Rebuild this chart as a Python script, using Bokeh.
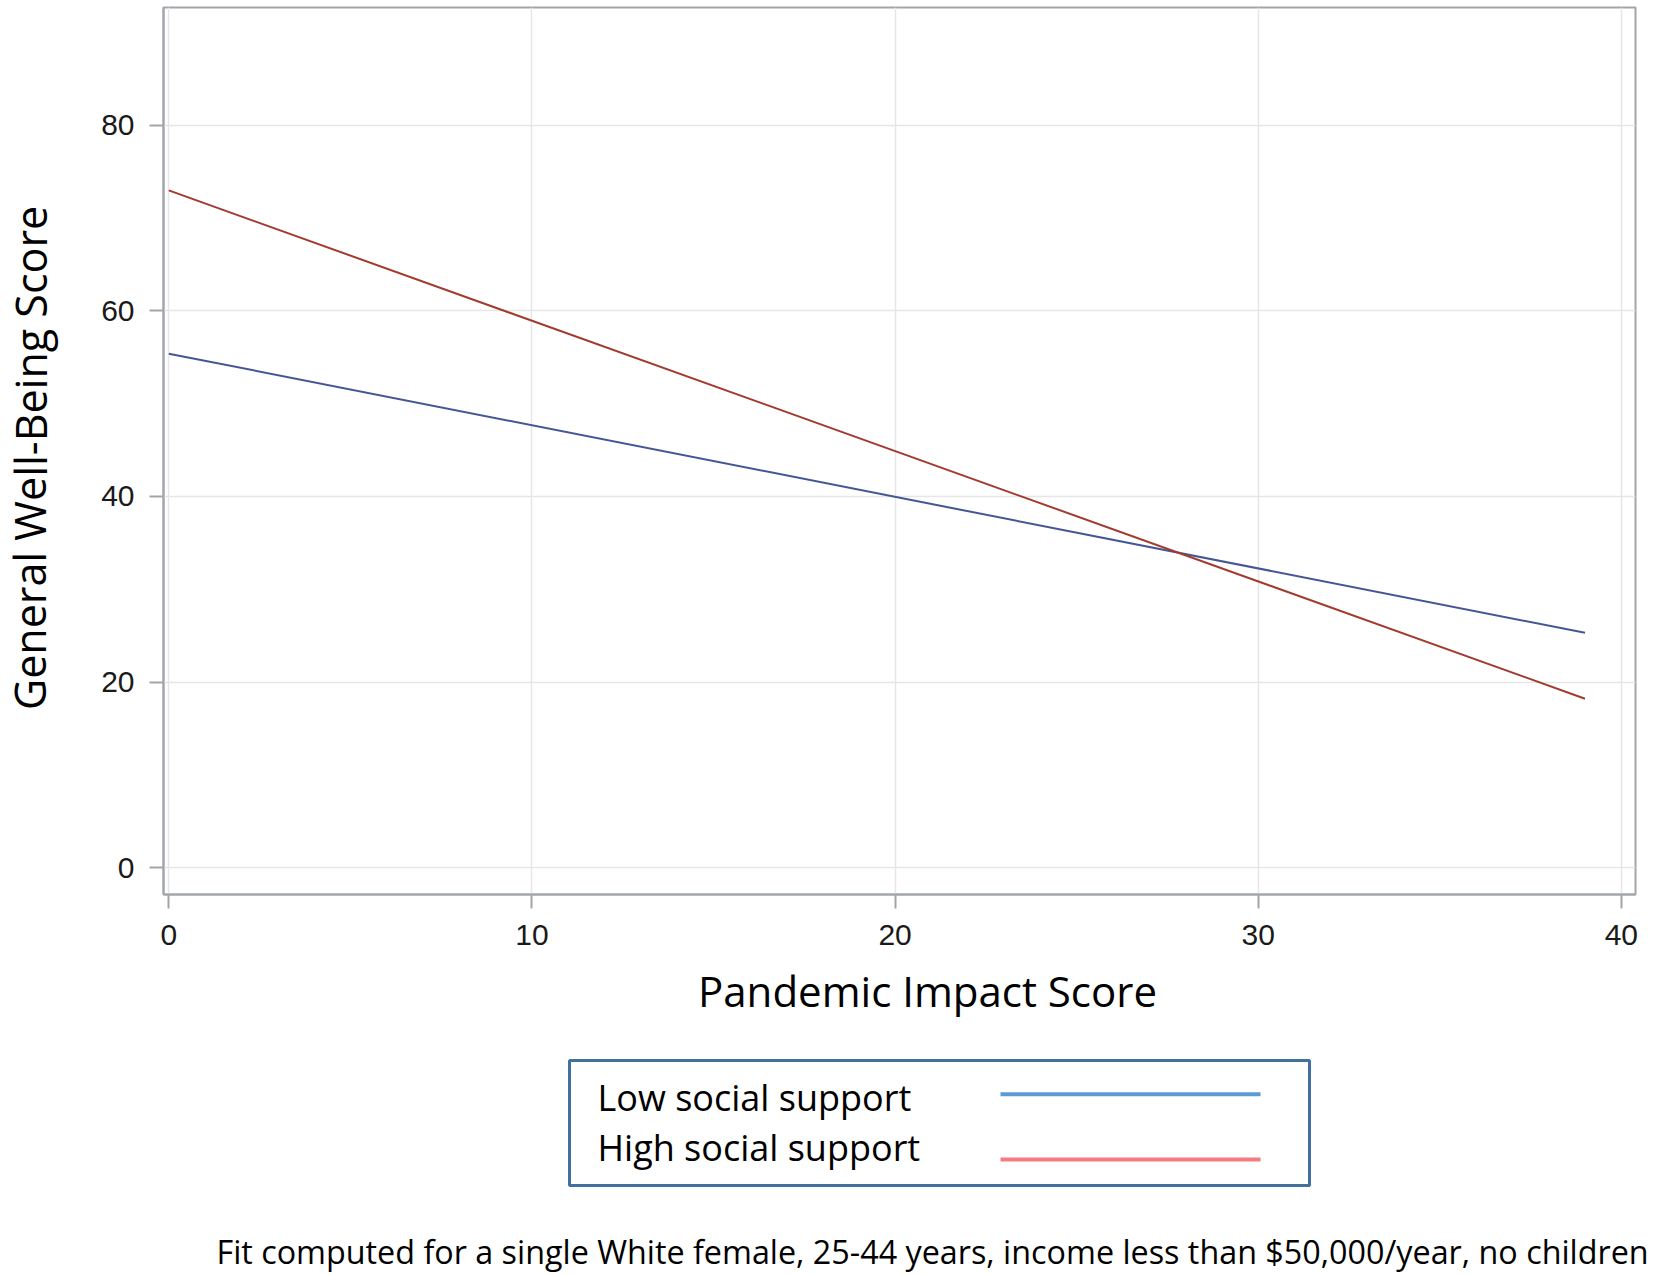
from bokeh.plotting import figure
from bokeh.models import Range1d, FixedTicker
from bokeh.layouts import column, row
from bokeh.core.properties import value
from bokeh.embed import file_html
from bokeh.resources import INLINE

# ---- data ----
impact_x = [0, 39]
low_support_y = [55.4, 25.3]
high_support_y = [73.0, 18.2]
x_ticks = [0, 10, 20, 30, 40]
y_ticks = [0, 20, 40, 60, 80]
series_names = ["Low social support", "High social support"]
x_title = "Pandemic Impact Score"
y_title = "General Well-Being Score"
footnote = "Fit computed for a single White female, 25-44 years, income less than $50,000/year, no children"

W = 1654
LEFT_W = 60
MAIN_H = 960
BOT_H = 1275 - MAIN_H
FRAME_GRAY = "#a2a6aa"


def blank(width, height, xr, yr):
    f = figure(width=width, height=height, output_backend="svg", toolbar_location=None,
               x_range=xr, y_range=yr, x_axis_type=None, y_axis_type=None, min_border=0)
    f.frame_align = False
    f.grid.visible = False
    f.outline_line_color = None
    f.background_fill_color = "white"
    f.border_fill_color = "white"
    return f


# ---- y-axis title panel ----
lt = blank(LEFT_W, MAIN_H, Range1d(0, LEFT_W), Range1d(0, MAIN_H))
lt.text(x=[29.5], y=[MAIN_H - 457.5], text=[y_title], angle=1.5707963,
        text_font=value("Open Sans"), text_font_size="43px", text_align="center",
        text_baseline="middle", text_color="black")

# ---- main chart ----
p = figure(width=W - LEFT_W, height=MAIN_H, output_backend="svg", toolbar_location=None,
           x_range=Range1d(-0.146, 40.39), y_range=Range1d(-2.91, 92.72),
           min_border_left=163 - LEFT_W, min_border_right=19, min_border_top=7,
           min_border_bottom=66)
p.frame_align = False
p.background_fill_color = "white"
p.border_fill_color = "white"
p.outline_line_color = FRAME_GRAY
p.outline_line_width = 2

for ax, ticks in ((p.xaxis, x_ticks), (p.yaxis, y_ticks)):
    ax.ticker = FixedTicker(ticks=ticks)
    ax.axis_line_color = FRAME_GRAY
    ax.axis_line_width = 2
    ax.major_tick_line_color = FRAME_GRAY
    ax.major_tick_line_width = 2
    ax.major_tick_out = 14
    ax.major_tick_in = 0
    ax.minor_tick_line_color = None
    ax.major_label_text_font = "Liberation Sans"
    ax.major_label_text_font_size = "30px"
    ax.major_label_text_color = "#1a1a1a"
p.xaxis.major_label_standoff = 16
p.yaxis.major_label_standoff = 15

p.xgrid.ticker = FixedTicker(ticks=x_ticks)
p.ygrid.ticker = FixedTicker(ticks=y_ticks)
p.grid.grid_line_color = "#e6e6e6"
p.grid.grid_line_width = 1.5

p.line(impact_x, low_support_y, line_color="#445694", line_width=2)
p.line(impact_x, high_support_y, line_color="#A23A2E", line_width=2)

# ---- lower panel: x-axis title, legend, footnote (pixel coordinates) ----
b = blank(W, BOT_H, Range1d(0, W), Range1d(BOT_H, 0))

b.text(x=[927], y=[30], text=[x_title], text_font=value("Open Sans"),
       text_font_size="42px", text_align="center", text_baseline="middle",
       text_color="black")

b.quad(left=[569], right=[1309], top=[100], bottom=[225], fill_color="white",
       line_color="#41719C", line_width=3)
b.text(x=[597, 597], y=[137, 186.7], text=series_names, text_font=value("Open Sans"),
       text_font_size="36px", text_align="left", text_baseline="middle",
       text_color="black")
b.segment(x0=[1000, 1000], y0=[133.7, 199], x1=[1260, 1260], y1=[133.7, 199],
          line_color=["#5B9BD5", "#F47C80"], line_width=4, line_cap="butt")

b.text(x=[216], y=[290], text=[footnote], text_font=value("Open Sans"),
       text_font_size="32.3px", text_align="left", text_baseline="middle",
       text_color="black")

layout = column(row(lt, p, spacing=0), b, spacing=0)
open("out.html", "w").write(file_html(layout, INLINE))
